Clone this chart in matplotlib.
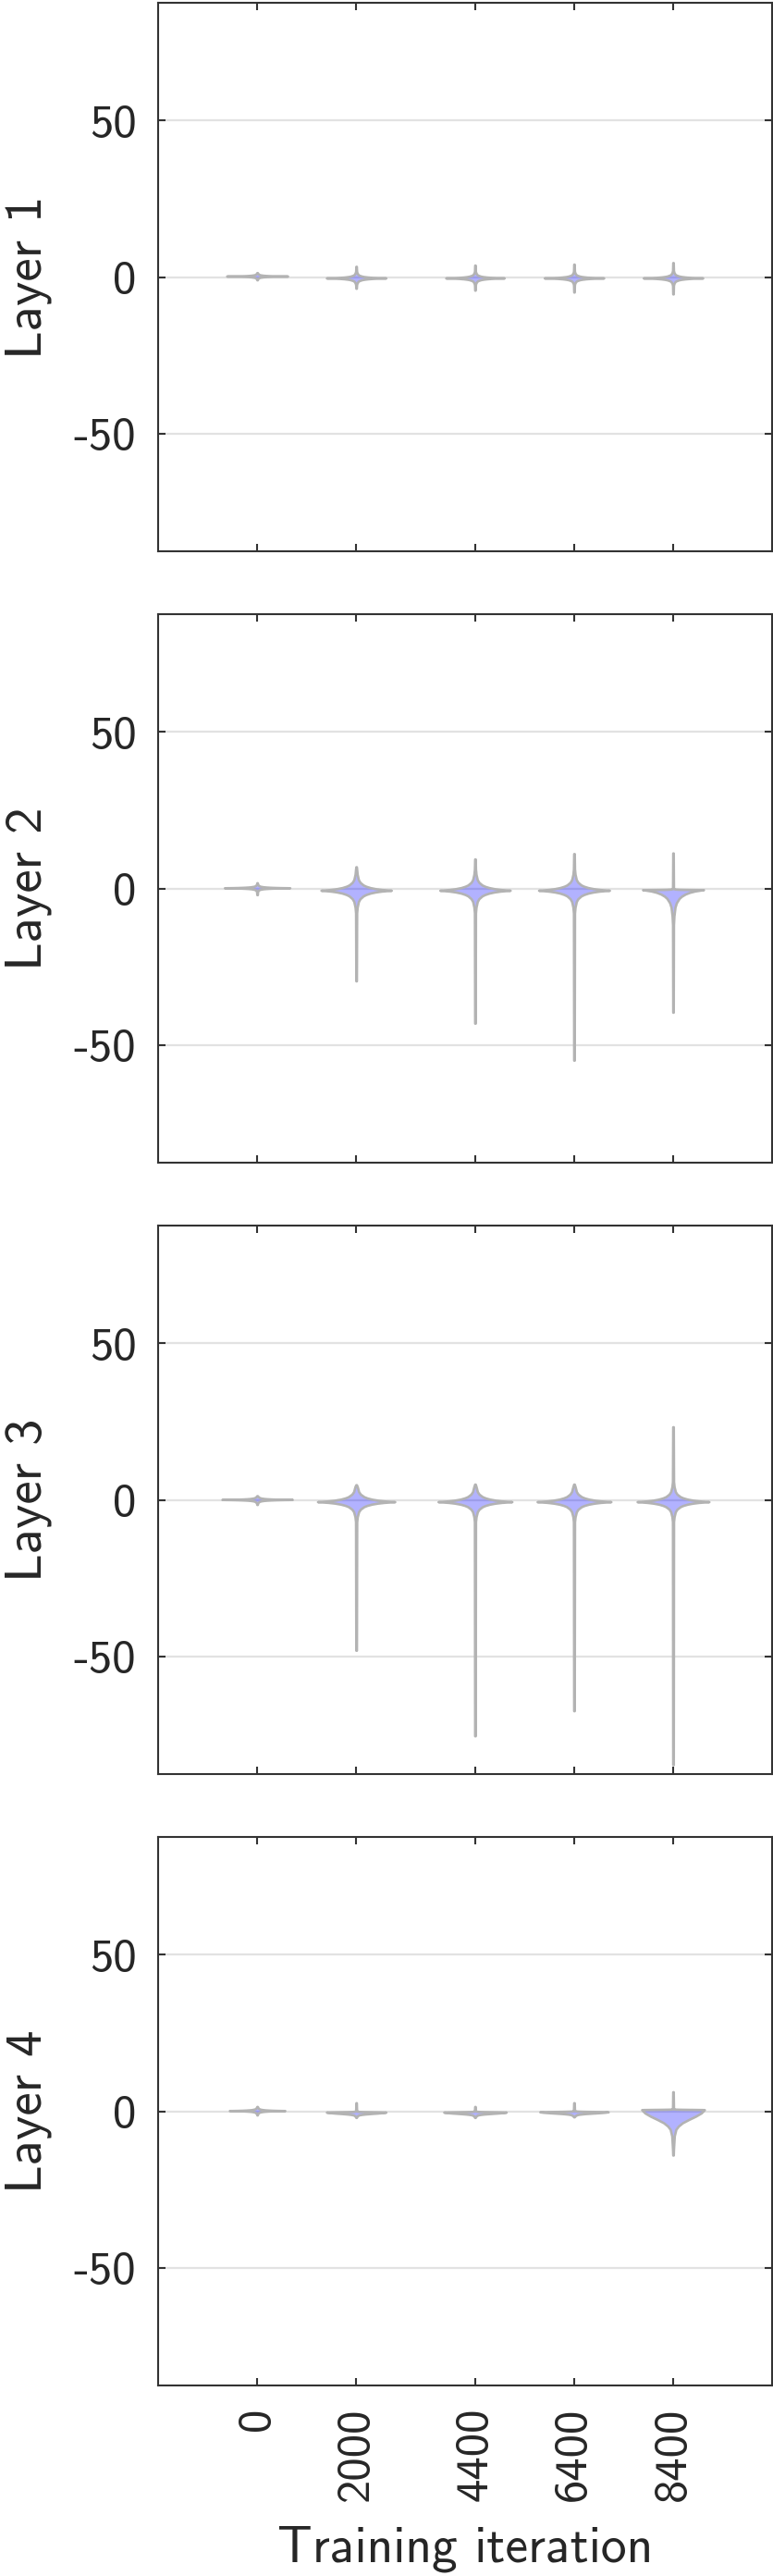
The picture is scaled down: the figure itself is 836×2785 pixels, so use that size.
import matplotlib
matplotlib.use("Agg")
import matplotlib.pyplot as plt

plt.rcParams['font.family'] = 'cmss10'
plt.rcParams['axes.unicode_minus'] = False
plt.rcParams['mathtext.fontset'] = 'cm'

iterations = [0, 2000, 4400, 6400, 8400]
layer_names = ['Layer 1', 'Layer 2', 'Layer 3', 'Layer 4']

# per layer, per iteration: center, lowest value, highest value
centers = [
    [0.3, -0.3, -0.3, -0.3, -0.3],
    [0.2, -0.6, -0.6, -0.6, -0.4],
    [0.1, -0.6, -0.6, -0.6, -0.6],
    [0.2, -0.3, -0.3, -0.2, 0.5],
]
lows = [
    [-0.9, -3.6, -4.2, -4.8, -5.4],
    [-2.0, -29.5, -43.0, -54.8, -39.5],
    [-1.5, -48.0, -75.3, -67.3, -84.5],
    [-1.2, -2.0, -2.0, -1.8, -14.0],
]
highs = [
    [1.4, 3.4, 3.8, 4.1, 4.6],
    [1.8, 6.9, 9.4, 11.1, 11.3],
    [1.3, 4.8, 5.0, 5.0, 23.3],
    [1.5, 2.7, 1.5, 2.7, 6.2],
]
# spread of the body above / below the center
spread_up = [
    [0.25, 0.55, 0.55, 0.55, 0.6],
    [0.3, 1.7, 1.7, 1.7, 0.1],
    [0.3, 1.6, 1.6, 1.6, 1.6],
    [0.3, 0.15, 0.15, 0.15, 0.1],
]
spread_down = [
    [0.25, 0.55, 0.55, 0.55, 0.6],
    [0.3, 1.8, 1.8, 1.8, 2.8],
    [0.3, 1.6, 1.6, 1.6, 1.6],
    [0.3, 0.6, 0.6, 0.6, 4.2],
]
# maximum half width of each violin
half_widths = [
    [615, 600, 590, 600, 600],
    [660, 710, 710, 715, 615],
    [710, 780, 745, 745, 725],
    [560, 600, 630, 690, 633],
]
round_shape = [
    [False, False, False, False, False],
    [False, False, False, False, False],
    [False, False, False, False, False],
    [False, True, True, True, True],
]

# density profiles (distance in spreads, relative width)
peak_d = [0, 0.15, 0.3, 0.5, 0.75, 1.0, 1.5, 2.0, 3.0, 4.0]
peak_w = [1.0, 0.72, 0.55, 0.40, 0.28, 0.20, 0.11, 0.065, 0.03, 0.015]
round_d = [0, 0.25, 0.5, 0.75, 1.0, 1.25, 1.5, 2.0, 3.0]
round_w = [1.0, 0.9, 0.72, 0.5, 0.3, 0.17, 0.09, 0.04, 0.015]
tail_w = 0.008


def outline(c, lo, hi, su, sd, w, pd, pw):
    ys, ws = [lo], [tail_w * w]
    for d, f in reversed(list(zip(pd, pw))):
        y = c - d * sd
        if y > lo:
            ys.append(y)
            ws.append(f * w)
    for d, f in zip(pd[1:], pw[1:]):
        y = c + d * su
        if y < hi:
            ys.append(y)
            ws.append(f * w)
    ys.append(hi)
    ws.append(tail_w * w)
    return ys, ws


fig = plt.figure(figsize=(8.37, 27.85), dpi=100)
H = 2785.0
for i, name in enumerate(layer_names):
    top = 3 + 661 * i
    ax = fig.add_axes([171 / 837, 1 - (top + 593) / H, 664 / 837, 593 / H])
    ax.set_axisbelow(True)
    for j, it in enumerate(iterations):
        if round_shape[i][j]:
            pd, pw = round_d, round_w
        else:
            pd, pw = peak_d, peak_w
        ys, ws = outline(centers[i][j], lows[i][j], highs[i][j],
                         spread_up[i][j], spread_down[i][j], half_widths[i][j], pd, pw)
        ax.fill_betweenx(ys, [it - v for v in ws], [it + v for v in ws],
                         facecolor=(0, 0, 1, 0.3), edgecolor='#b3b3b3',
                         linewidth=1.9, zorder=2)
    ax.set_xlim(-2000, 10400)
    ax.set_ylim(-87.5, 87.5)
    ax.set_yticks([-50, 0, 50])
    ax.set_yticklabels(['-50', '0', '50'])
    ax.set_xticks(iterations)
    ax.yaxis.grid(True, color='#e2e2e2', linewidth=1.6)
    ax.tick_params(direction='in', length=6, width=1.5, color='#333333',
                   top=True, right=True, labelsize=36.5, pad=17,
                   labelcolor='#262626')
    for sp in ax.spines.values():
        sp.set_linewidth(1.5)
        sp.set_color('#333333')
    ax.set_ylabel(name, fontsize=41, labelpad=17, color='#262626')
    if i == 3:
        ax.set_xticklabels([str(v) for v in iterations], rotation=90)
        ax.set_xlabel('Training iteration', fontsize=40, labelpad=19, color='#262626')
    else:
        ax.set_xticklabels([])

fig.savefig('out.png', dpi=100)
